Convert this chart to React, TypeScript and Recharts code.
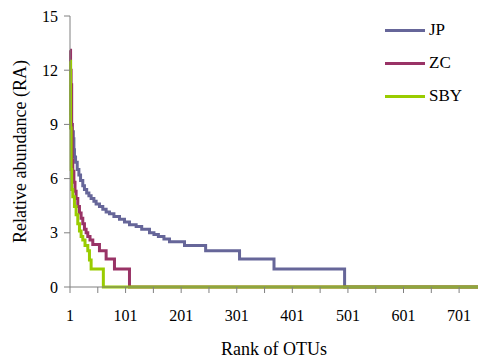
import React from 'react'
import { LineChart, Line, XAxis, YAxis, Label } from 'recharts'

// rank -> relative abundance (value holds until next rank)
const jpRank = [1, 2, 3, 5, 7, 8, 9, 11, 14, 17, 20, 24, 27, 31, 35, 39, 44, 48, 54, 60, 66, 72, 80, 90, 99, 108, 120, 130, 144, 152, 160, 170, 180, 207, 245, 306, 368, 495, 735]
const jpRA = [11.2, 9.6, 9.0, 8.6, 8.2, 7.6, 7.2, 6.9, 6.5, 6.2, 5.9, 5.6, 5.4, 5.2, 5.05, 4.9, 4.75, 4.6, 4.45, 4.3, 4.15, 4.05, 3.9, 3.75, 3.6, 3.45, 3.35, 3.2, 3.0, 2.9, 2.8, 2.65, 2.5, 2.3, 2.0, 1.55, 1.0, 0, 0]

const zcRank = [1, 2, 3, 4, 5, 6, 8, 10, 12, 15, 18, 21, 24, 27, 30, 33, 37, 42, 54, 66, 81, 108, 735]
const zcRA = [13.1, 12.0, 11.2, 9.0, 7.0, 6.4, 5.8, 5.3, 4.9, 4.45, 4.1, 3.8, 3.5, 3.2, 3.0, 2.8, 2.6, 2.35, 2.0, 1.55, 1.0, 0, 0]

const sbyRank = [1, 2, 3, 4, 6, 9, 12, 15, 18, 21, 24, 28, 33, 36, 39, 61, 735]
const sbyRA = [12.5, 8.8, 6.5, 5.4, 5.0, 4.45, 4.0, 3.5, 3.1, 2.8, 2.6, 2.3, 2.0, 1.5, 1.0, 0, 0]

const xTicks = [1, 51, 101, 151, 201, 251, 301, 351, 401, 451, 501, 551, 601, 651, 701]
const yTicks = [0, 3, 6, 9, 12, 15]

const series = [
  { name: 'JP', color: '#666699', rank: jpRank, ra: jpRA },
  { name: 'ZC', color: '#993366', rank: zcRank, ra: zcRA },
  { name: 'SBY', color: '#99cc00', rank: sbyRank, ra: sbyRA },
]

const font = 'Liberation Serif'

const App = () => {
  return (
    <div style={{ position: 'absolute', left: 0, top: 0, width: 497, height: 361, fontFamily: font }}>
      <LineChart width={497} height={361} margin={{ top: 16, right: 19, left: 0, bottom: 0 }} style={{ fontFamily: font }}>
        <XAxis
          type="number"
          dataKey="x"
          domain={[1, 735]}
          ticks={xTicks}
          tickFormatter={(v: number) => ((v - 1) % 100 === 0 ? String(v) : '')}
          interval={0}
          height={74}
          stroke="#808080"
          tickSize={6}
          tickMargin={17}
          tick={{ fill: '#000', fontSize: 16, fontFamily: font }}
        >
          <Label value="Rank of OTUs" position="insideBottom" offset={6} fontFamily={font} fontSize={18} fill="#000" />
        </XAxis>
        <YAxis
          type="number"
          domain={[0, 15]}
          ticks={yTicks}
          interval={0}
          width={70}
          stroke="#808080"
          tickSize={6}
          tickMargin={6}
          tick={{ fill: '#000', fontSize: 16, fontFamily: font }}
        >
          <Label value="Relative abundance (RA)" angle={-90} position="insideLeft" offset={20} textAnchor="middle" fontFamily={font} fontSize={18} fill="#000" />
        </YAxis>
        {series.map(s => (
          <Line
            key={s.name}
            data={s.rank.map((r, i) => ({ x: r, y: s.ra[i] }))}
            dataKey="y"
            name={s.name}
            type="stepAfter"
            stroke={s.color}
            strokeWidth={3}
            dot={false}
            isAnimationActive={false}
          />
        ))}
      </LineChart>
      <div style={{ position: 'absolute', left: 385, top: 18 }}>
        {series.map((s, i) => (
          <div key={s.name} style={{ position: 'absolute', top: i * 33, left: 0, display: 'flex', alignItems: 'center', height: 24 }}>
            <div style={{ width: 40, height: 3, background: s.color }} />
            <span style={{ marginLeft: 4, fontSize: 17, color: '#000', fontFamily: font }}>{s.name}</span>
          </div>
        ))}
      </div>
    </div>
  )
}

export default App
